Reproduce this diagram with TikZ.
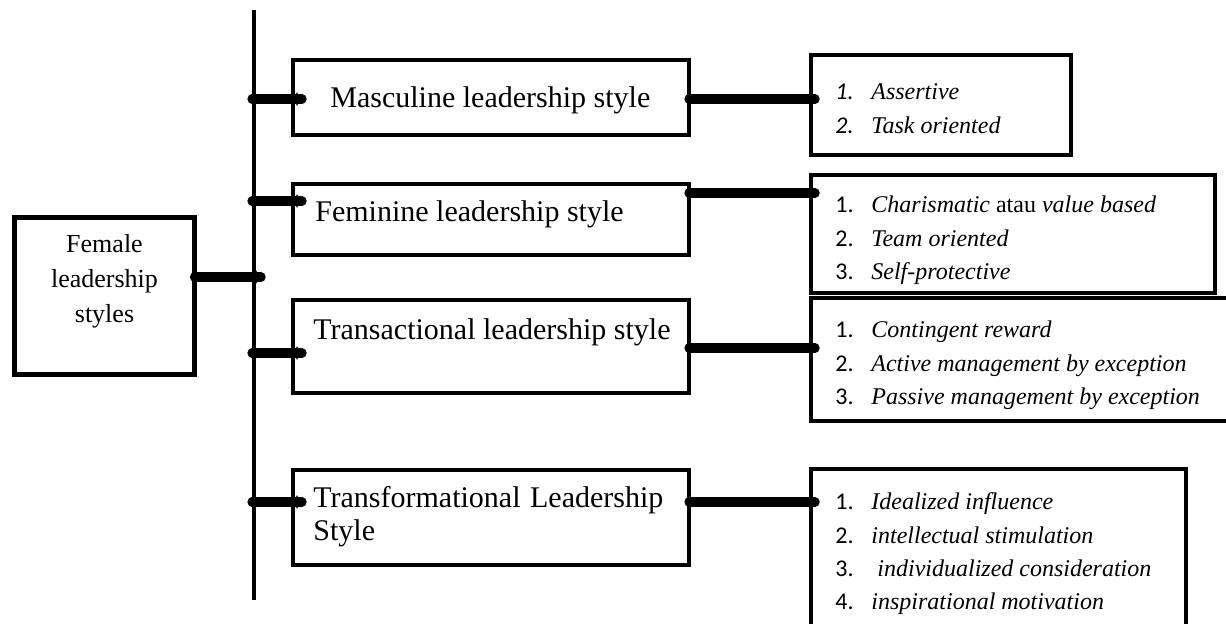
\documentclass[tikz,border=0pt]{standalone}
\usepackage{fontspec}
\setmainfont{Liberation Serif}
\newfontfamily\numfont{Carlito}
\usetikzlibrary{arrows.meta}
\newcommand{\nr}[1]{\makebox[18pt][l]{\numfont #1}}

\begin{document}
\begin{tikzpicture}[x=0.5pt,y=-0.5pt,
    box/.style={draw,line width=2.4pt,inner sep=0pt,outer sep=0pt},
    link/.style={line width=4.6pt,line cap=round,-{Kite[length=3pt,width=7pt,inset=1.5pt]}},
    spine/.style={line width=2pt},
    mid/.style={inner sep=0pt,anchor=base west,font=\fontsize{15}{16.5}\selectfont},
    lst/.style={inner sep=0pt,anchor=base west,font=\fontsize{12}{16.65}\selectfont}]
  \useasboundingbox (0,0) rectangle (1226,624);
  \node[box,minimum width=90pt,minimum height=78.5pt] (fls) at (104.5,296) {};
  \node[inner sep=0pt,anchor=base,font=\fontsize{13}{17.5}\selectfont] (fls_txt) at (104.5,253)
    {\begin{tabular}[t]{@{}c@{}}Female\\leadership\\styles\end{tabular}};
  \foreach \i/\y/\h in {1/97.5/37.5,2/219.5/35.5,3/346.5/46.5,4/517.5/47.5}
    \node[box,minimum width=198pt,minimum height=\h pt] (style_\i) at (491,\y) {};
  \node[box,minimum width=130pt,minimum height=50pt] (trait_1) at (941,105) {};
  \node[box,minimum width=202pt,minimum height=59pt] (trait_2) at (1013,234) {};
  \node[box,minimum width=214.5pt,minimum height=61.5pt] (trait_3) at (1025.5,359.5) {};
  \node[box,minimum width=187.5pt,minimum height=90.5pt] (trait_4) at (998.5,559.5) {};
  \node[mid] (style_1_txt) at (330,108) {Masculine leadership style};
  \node[mid] (style_2_txt) at (315,222) {Feminine leadership style};
  \node[mid] (style_3_txt) at (313,340) {Transactional leadership style};
  \node[mid] (style_4_txt) at (313,508)
    {\begin{tabular}[t]{@{}l@{}}\makebox[175pt][s]{Transformational Leadership}\\Style\end{tabular}};
  \node[lst] (trait_1_txt) at (835,100) {\begin{tabular}[t]{@{}l@{}}
    \nr{\itshape 1.}\textit{Assertive}\\
    \nr{\itshape 2.}\textit{Task oriented}\end{tabular}};
  \node[lst] (trait_2_txt) at (835,213) {\begin{tabular}[t]{@{}l@{}}
    \nr{1.}\textit{Charismatic} atau \textit{value based}\\
    \nr{2.}\textit{Team oriented}\\
    \nr{3.}\textit{Self-protective}\end{tabular}};
  \node[lst] (trait_3_txt) at (835,338) {\begin{tabular}[t]{@{}l@{}}
    \nr{1.}\textit{Contingent reward}\\
    \nr{2.}\textit{Active management by exception}\\
    \nr{3.}\textit{Passive management by exception}\end{tabular}};
  \node[lst] (trait_4_txt) at (835,510) {\begin{tabular}[t]{@{}l@{}}
    \nr{1.}\textit{Idealized influence}\\
    \nr{2.}\textit{intellectual stimulation}\\
    \nr{3.}\hspace{3pt}\textit{individualized consideration}\\
    \nr{4.}\textit{inspirational motivation}\end{tabular}};
  \coordinate (s_top) at (254,10);
  \coordinate (s_bot) at (254,600);
  \draw[spine] (s_top) -- (s_bot);
  \coordinate (j_0) at (254,277);
  \draw[link,shorten >=-2.5pt] (fls.east |- j_0) -- (j_0);
  \foreach \i/\y/\k in {1/99/99,2/201/193,3/353/348,4/502/502} {
    \coordinate (j_\i) at (254,\y);
    \coordinate (k_\i) at (800,\k);
    \draw[link,shorten >=-3.5pt] ([xshift=-1pt]j_\i) -- (j_\i -| style_\i.west);
    \draw[link,shorten >=-1pt] (style_\i.east |- k_\i) -- (trait_\i.west |- k_\i);
  }
\end{tikzpicture}
\end{document}
